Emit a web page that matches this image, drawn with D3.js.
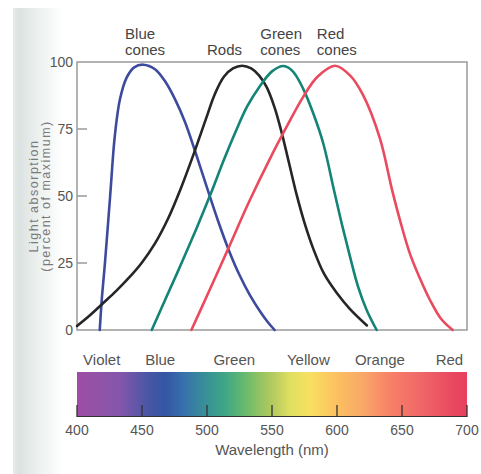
<!DOCTYPE html>
<html>
<head>
<meta charset="utf-8">
<script src="https://cdn.jsdelivr.net/npm/d3@7"></script>
<style>
  html, body { margin: 0; padding: 0; background: #fff; }
  svg { display: block; font-family: "Liberation Sans", Arial, sans-serif; }
</style>
</head>
<body>
<svg id="chart"></svg>
<script>
// absorption curves, [wavelength nm, percent of maximum]
const blueCones = [[417.5, 0], [419, 11], [421.5, 25], [425.5, 50], [429, 72], [433, 86], [438, 94], [444, 98], [451, 99], [460, 97.3], [468, 92.6], [476, 85.5], [483, 77.7], [491, 66.5], [501, 51.6], [509, 40], [517, 29.5], [525, 20.5], [533, 13], [541, 6.8], [547, 2.8], [552, 0]];
const rods = [[400, 1.5], [410, 5.5], [420, 10], [430, 14.5], [440, 19.5], [450, 25.2], [460, 32.3], [470, 41.5], [480, 53], [490, 66], [499, 78.5], [506, 88], [513, 94.5], [520, 97.6], [527, 98.6], [534, 97.6], [540, 95], [546, 90.5], [552, 83], [557, 74.5], [563, 62.5], [569, 50.4], [575, 40], [582, 30], [590, 21], [600, 13.7], [610, 7.8], [623, 1.7]];
const greenCones = [[457.5, 0], [468, 11.5], [480, 24.5], [492, 38], [503, 51], [513, 63.5], [522, 74], [531, 83.5], [540, 90.5], [550, 96.5], [559, 98.5], [566, 96.5], [574, 90], [582, 80.5], [589.5, 69.5], [598, 51.5], [604, 39], [610, 27.4], [616, 16.5], [622.8, 7.5], [630.5, 0]];
const redCones = [[488, 0], [500, 12.8], [516, 30], [532, 47.5], [548, 63.5], [562, 76.5], [574, 87], [585, 94.5], [598.5, 98.6], [610, 95], [620, 87.7], [633, 71.5], [642.5, 52], [649, 40], [656, 28.6], [664, 19], [671.5, 11.2], [680, 4.2], [689, 0]];

const seriesNames = ['Blue\ncones', 'Rods', 'Green\ncones', 'Red\ncones'];
const seriesLabelNm = [437, 500, 541, 584.5];

// spectrum strip below the plot
const spectrumNm = [400, 414, 433, 456, 468, 483, 501, 514, 527, 542, 552, 564, 579, 600, 620, 641, 664, 689, 700];
const spectrumColors = ['#9c4ea4', '#9452a6', '#8456ac', '#4656a4', '#3456a4', '#3872ac', '#389494', '#40a686', '#60b870', '#98c460', '#b8cc60', '#e0e060', '#f8e060', '#fcc060', '#f8a868', '#f88068', '#f06868', '#e84860', '#e84060'];
const bandNames = ['Violet', 'Blue', 'Green', 'Yellow', 'Orange', 'Red'];
const bandNm = [419, 464, 521, 578, 633, 686.5];

const xTicks = [400, 450, 500, 550, 600, 650, 700];
const yTicks = [0, 25, 50, 75, 100];

const width = 481;
const height = 474;

const svg = d3.select('#chart')
  .attr('width', width)
  .attr('height', height);

const x = d3.scaleLinear().domain([400, 700]).range([77, 467]);
const y = d3.scaleLinear().domain([0, 100]).range([330, 62]);

const defs = svg.append('defs');

// scanned page shading on the left
const shade = defs.append('linearGradient').attr('id', 'shade');
shade.append('stop').attr('offset', '0%').attr('stop-color', '#e6ebea');
shade.append('stop').attr('offset', '12%').attr('stop-color', '#dbe3e1');
shade.append('stop').attr('offset', '55%').attr('stop-color', '#eef2f1');
shade.append('stop').attr('offset', '100%').attr('stop-color', '#ffffff');

svg.append('rect')
  .attr('x', 13).attr('y', 8)
  .attr('width', 50).attr('height', height - 8)
  .attr('fill', 'url(#shade)');

// frame
svg.append('rect')
  .attr('x', x(400)).attr('y', y(100))
  .attr('width', x(700) - x(400)).attr('height', y(0) - y(100))
  .attr('fill', 'none')
  .attr('stroke', '#9a9a9a')
  .attr('stroke-width', 1.5);

// y ticks pointing inward
svg.selectAll('.ytick')
  .data(yTicks.filter(d => d > 0 && d < 100))
  .enter()
  .append('line')
  .attr('x1', x(400)).attr('x2', x(400) + 10)
  .attr('y1', d => y(d)).attr('y2', d => y(d))
  .attr('stroke', '#9a9a9a')
  .attr('stroke-width', 1.5);

svg.selectAll('.ylabel')
  .data(yTicks)
  .enter()
  .append('text')
  .attr('x', 73)
  .attr('y', d => y(d) + 5)
  .attr('text-anchor', 'end')
  .style('font-size', '14px')
  .style('fill', '#555')
  .text(d => d);

// y axis title
const yTitle = svg.append('text')
  .attr('transform', 'translate(0,196) rotate(-90)')
  .attr('text-anchor', 'middle')
  .style('font-size', '12.5px')
  .style('letter-spacing', '1.5px')
  .style('fill', '#7a7a7a');
yTitle.append('tspan').attr('x', 0).attr('y', 38).text('Light absorption');
yTitle.append('tspan').attr('x', 0).attr('y', 50).text('(percent of maximum)');

// curves
const line = d3.line()
  .x(d => x(d[0]))
  .y(d => y(d[1]))
  .curve(d3.curveCatmullRom.alpha(0.5));

const curves = [blueCones, rods, greenCones, redCones];
const curveColors = ['#3d4a9e', '#262626', '#138476', '#ea4a5e'];

svg.selectAll('.curve')
  .data(curves)
  .enter()
  .append('path')
  .attr('d', line)
  .attr('fill', 'none')
  .attr('stroke', (d, i) => curveColors[i])
  .attr('stroke-width', 2.6)
  .attr('stroke-linecap', 'round');

// curve names above the frame
const names = svg.selectAll('.name')
  .data(seriesNames)
  .enter()
  .append('text')
  .attr('text-anchor', 'start')
  .style('font-size', '15px')
  .style('fill', '#444');

names.each(function (d, i) {
  const parts = d.split('\n');
  const t = d3.select(this);
  parts.forEach((p, j) => {
    t.append('tspan')
      .attr('x', x(seriesLabelNm[i]))
      .attr('y', 55 - (parts.length - 1 - j) * 16)
      .text(p);
  });
});

// spectrum strip
const grad = defs.append('linearGradient')
  .attr('id', 'spectrum')
  .attr('gradientUnits', 'userSpaceOnUse')
  .attr('x1', x(400)).attr('x2', x(700))
  .attr('y1', 0).attr('y2', 0);

grad.selectAll('stop')
  .data(spectrumNm)
  .enter()
  .append('stop')
  .attr('offset', d => (d - 400) / 300)
  .attr('stop-color', (d, i) => spectrumColors[i]);

svg.append('rect')
  .attr('x', x(400)).attr('y', 372)
  .attr('width', x(700) - x(400)).attr('height', 45)
  .attr('fill', 'url(#spectrum)');

svg.append('line')
  .attr('x1', x(400)).attr('x2', x(700))
  .attr('y1', 416.5).attr('y2', 416.5)
  .attr('stroke', '#333')
  .attr('stroke-width', 1.2);

svg.selectAll('.xtick')
  .data(xTicks)
  .enter()
  .append('line')
  .attr('x1', d => x(d)).attr('x2', d => x(d))
  .attr('y1', 405).attr('y2', 417)
  .attr('stroke', '#333')
  .attr('stroke-width', 1.3);

svg.selectAll('.xlabel')
  .data(xTicks)
  .enter()
  .append('text')
  .attr('x', d => x(d))
  .attr('y', 435)
  .attr('text-anchor', 'middle')
  .style('font-size', '14px')
  .style('fill', '#555')
  .text(d => d);

svg.append('text')
  .attr('x', 272)
  .attr('y', 455)
  .attr('text-anchor', 'middle')
  .style('font-size', '15px')
  .style('fill', '#555')
  .text('Wavelength (nm)');

svg.selectAll('.band')
  .data(bandNames)
  .enter()
  .append('text')
  .attr('x', (d, i) => x(bandNm[i]))
  .attr('y', 365)
  .attr('text-anchor', 'middle')
  .style('font-size', '15px')
  .style('fill', '#555')
  .text(d => d);
</script>
</body>
</html>
